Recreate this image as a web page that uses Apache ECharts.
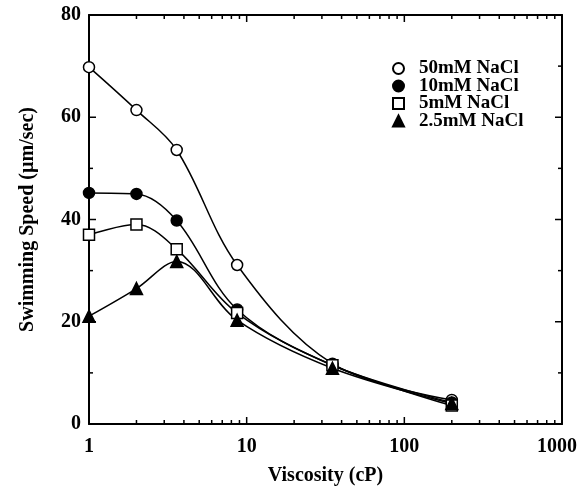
<html>
<head>
<meta charset="utf-8">
<script src="https://cdn.jsdelivr.net/npm/echarts@6/dist/echarts.min.js"></script>
<style>
  html, body, #main { width: 100%; height: 100%; margin: 0; background: #fff; }
</style>
</head>
<body>
<div id="main"></div>
<script type="text/javascript">
// viscosity (cP) for each measurement
var viscosity = [1, 2, 3.6, 8.7, 35, 200];
// swimming speed (um/sec) per NaCl concentration
var speed50 = [69.8, 61.4, 53.6, 31.1, 11.8, 4.7];
var speed10 = [45.2, 45.0, 39.8, 22.4, 11.5, 4.2];
var speed5 = [37.0, 39.0, 34.2, 21.7, 11.5, 3.6];
var speed25 = [21.1, 26.5, 31.8, 20.3, 10.9, 4.0];
var seriesNames = ['50mM NaCl', '10mM NaCl', '5mM NaCl', '2.5mM NaCl'];

// tick positions (drawn inward on all four sides)
var xMajorTicks = [10, 100];
var xMinorTicks = [2, 3, 4, 5, 6, 7, 8, 9, 20, 30, 40, 50, 60, 70, 80, 90, 200, 300, 400, 500, 600, 700, 800, 900];
var yMajorTicks = [20, 40, 60];
var yMinorTicks = [10, 30, 50, 70];

var chart = echarts.init(document.getElementById('main'));
var serif = '"Liberation Serif", "DejaVu Serif", serif';
var labelFont = { fontFamily: serif, fontWeight: 'bold', fontSize: 20, color: '#000' };

function pairs(ys) {
    var out = [];
    for (var i = 0; i < viscosity.length; i++) out.push([viscosity[i], ys[i]]);
    return out;
}

function makeSeries(name, ys, symbol, fill, size) {
    return {
        name: name,
        type: 'line',
        data: pairs(ys),
        smooth: 0.35,
        symbol: symbol,
        symbolSize: size,
        showAllSymbol: true,
        lineStyle: { color: '#000', width: 1.5 },
        itemStyle: { color: fill, borderColor: '#000', borderWidth: 1.5 },
        emphasis: { disabled: true },
        z: 3
    };
}

// tick data: [x, y, kind]  kind 0 = x major, 1 = x minor, 2 = y major, 3 = y minor
var tickData = [];
xMajorTicks.forEach(function (v) { tickData.push([v, 0, 0]); });
xMinorTicks.forEach(function (v) { tickData.push([v, 0, 1]); });
yMajorTicks.forEach(function (v) { tickData.push([1, v, 2]); });
yMinorTicks.forEach(function (v) { tickData.push([1, v, 3]); });

function renderTick(params, api) {
    var cs = params.coordSys;
    var kind = api.value(2);
    var style = { stroke: '#000', lineWidth: 1.5 };
    if (kind < 2) {
        var px = api.coord([api.value(0), 0])[0];
        var len = kind === 0 ? 7 : 4;
        return {
            type: 'group',
            children: [
                { type: 'line', shape: { x1: px, y1: cs.y + cs.height, x2: px, y2: cs.y + cs.height - len }, style: style },
                { type: 'line', shape: { x1: px, y1: cs.y, x2: px, y2: cs.y + len }, style: style }
            ]
        };
    }
    var py = api.coord([1, api.value(1)])[1];
    var ylen = kind === 2 ? 7 : 4;
    return {
        type: 'group',
        children: [
            { type: 'line', shape: { x1: cs.x, y1: py, x2: cs.x + ylen, y2: py }, style: style },
            { type: 'line', shape: { x1: cs.x + cs.width, y1: py, x2: cs.x + cs.width - ylen, y2: py }, style: style }
        ]
    };
}

var axisCommon = {
    axisLine: { show: true, onZero: false, lineStyle: { color: '#000', width: 2 } },
    axisTick: { show: false },
    minorTick: { show: false },
    splitLine: { show: false },
    minorSplitLine: { show: false }
};

var option = {
    animation: false,
    backgroundColor: '#fff',
    grid: { left: 89, right: 17, top: 15, bottom: 64, outerBoundsMode: 'none', containLabel: false },
    legend: {
        orient: 'vertical',
        left: 387,
        top: 54,
        itemWidth: 11,
        itemHeight: 11,
        itemGap: -1.5,
        textStyle: { fontFamily: serif, fontWeight: 'bold', fontSize: 19, color: '#000', padding: [0, 0, 0, 10] },
        data: [
            { name: seriesNames[0], icon: 'circle' },
            { name: seriesNames[1], icon: 'circle' },
            { name: seriesNames[2], icon: 'rect' },
            { name: seriesNames[3], icon: 'triangle' }
        ]
    },
    xAxis: [
        Object.assign({}, axisCommon, {
            type: 'log',
            logBase: 10,
            min: 1,
            max: 1000,
            position: 'bottom',
            axisLabel: Object.assign({}, labelFont, {
                margin: 13,
                formatter: function (v) {
                    var s = String(Math.round(v));
                    return v >= 1000 ? '{r|' + s + '}' : s;
                },
                rich: { r: Object.assign({}, labelFont, { padding: [0, 10, 0, 0] }) }
            }),
            name: 'Viscosity (cP)',
            nameLocation: 'middle',
            nameGap: 42,
            nameTextStyle: labelFont
        }),
        Object.assign({}, axisCommon, {
            type: 'log',
            logBase: 10,
            min: 1,
            max: 1000,
            position: 'top',
            axisLabel: { show: false }
        })
    ],
    yAxis: [
        Object.assign({}, axisCommon, {
            type: 'value',
            min: 0,
            max: 80,
            interval: 20,
            position: 'left',
            axisLabel: Object.assign({}, labelFont, { margin: 8 }),
            name: 'Swimming Speed (\u00b5m/sec)',
            nameLocation: 'middle',
            nameGap: 51,
            nameTextStyle: labelFont
        }),
        Object.assign({}, axisCommon, {
            type: 'value',
            min: 0,
            max: 80,
            interval: 20,
            position: 'right',
            axisLabel: { show: false }
        })
    ],
    series: [
        {
            type: 'custom',
            name: 'ticks',
            renderItem: renderTick,
            data: tickData,
            encode: { x: 0, y: 1 },
            clip: false,
            silent: true,
            z: 1
        },
        makeSeries(seriesNames[0], speed50, 'circle', '#fff', 11),
        makeSeries(seriesNames[1], speed10, 'circle', '#000', 11),
        makeSeries(seriesNames[2], speed5, 'rect', '#fff', 11),
        makeSeries(seriesNames[3], speed25, 'triangle', '#000', 12)
    ]
};
chart.setOption(option);
window.onresize = chart.resize;
</script>
</body>
</html>
